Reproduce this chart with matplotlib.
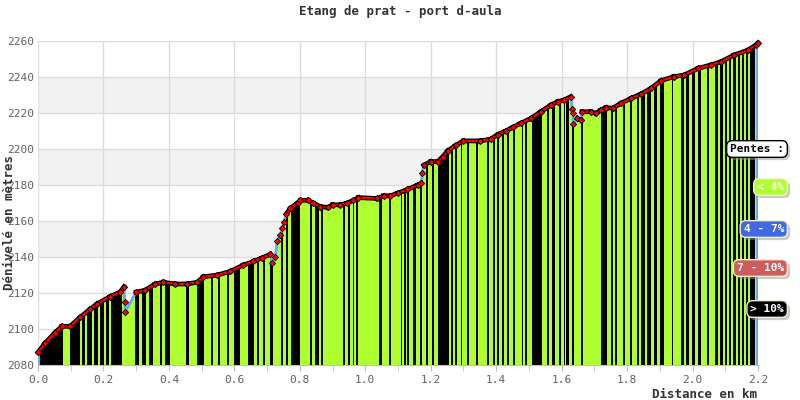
import numpy as np
import matplotlib.pyplot as plt
from matplotlib.patches import Polygon
import matplotlib.patheffects as pe

# elevation profile (km, m)
dist = [0.0, 0.021, 0.052, 0.073, 0.098, 0.129, 0.159, 0.181, 0.22, 0.251,
        0.263, 0.265, 0.266, 0.30, 0.327, 0.358, 0.383, 0.419, 0.456, 0.487,
        0.505, 0.548, 0.588, 0.627, 0.658, 0.685, 0.71, 0.715, 0.725, 0.731,
        0.74, 0.747, 0.751, 0.759, 0.771, 0.793, 0.802, 0.826, 0.841, 0.863,
        0.887, 0.90, 0.924, 0.945, 0.964, 0.979, 1.037, 1.056, 1.077, 1.099,
        1.129, 1.16, 1.171, 1.174, 1.179, 1.20, 1.221, 1.236, 1.252, 1.276,
        1.30, 1.352, 1.383, 1.405, 1.429, 1.45, 1.475, 1.506, 1.536, 1.567,
        1.588, 1.607, 1.628, 1.633, 1.635, 1.636, 1.648, 1.659, 1.662, 1.689,
        1.704, 1.72, 1.735, 1.756, 1.781, 1.812, 1.842, 1.873, 1.904, 1.943,
        1.974, 2.017, 2.056, 2.087, 2.127, 2.17, 2.195, 2.2]
elev = [2087, 2092, 2098, 2101.5, 2101.5, 2106.5, 2111, 2114, 2118, 2120.5,
        2123.5, 2115, 2109.5, 2120.5, 2121.5, 2125, 2126, 2125, 2125, 2126,
        2129, 2130, 2132, 2135.5, 2137.5, 2139.5, 2141.5, 2136.5, 2140, 2149,
        2152, 2156, 2159.5, 2164, 2167, 2170, 2171.5, 2171.5, 2170, 2168,
        2167.5, 2169, 2169, 2170, 2171.5, 2173, 2172.5, 2174, 2174, 2175.5,
        2177.5, 2180, 2181, 2186.5, 2191, 2193, 2193, 2195.5, 2199, 2202,
        2204.5, 2204.5, 2205.5, 2208, 2210, 2212, 2214.3, 2217, 2220.7, 2224.4,
        2226.3, 2227.2, 2229.1, 2222, 2219.8, 2213.7, 2217, 2216, 2220.7, 2220.7,
        2219.8, 2221.7, 2223, 2222.6, 2225.4, 2228.1, 2230.5, 2233.7, 2238, 2240.2,
        2241.1, 2244.8, 2246.7, 2248.5, 2252.2, 2255, 2258, 2259]

# slope stripes > 10% (start, end in km)
black_start = [0.006, 0.098, 0.135, 0.150, 0.171, 0.190, 0.208, 0.223, 0.297, 0.318, 0.340,
               0.373, 0.389, 0.453, 0.487, 0.529, 0.551, 0.578, 0.600, 0.643, 0.670, 0.689, 0.710,
               0.744, 0.759, 0.774, 0.832, 0.845, 0.866, 0.933, 0.946, 0.961, 0.973, 1.043, 1.074,
               1.108, 1.117, 1.129, 1.147, 1.166, 1.187, 1.203, 1.221, 1.261, 1.273, 1.291, 1.310,
               1.337, 1.371, 1.389, 1.401, 1.417, 1.432, 1.450,
               1.478, 1.487, 1.509, 1.554, 1.570, 1.591, 1.607, 1.613, 1.631, 1.659, 1.720, 1.750,
               1.763, 1.787, 1.809, 1.830,
               1.842, 1.860, 1.882, 1.900, 1.937, 1.964, 1.980, 1.998, 2.017, 2.044, 2.069, 2.084,
               2.099, 2.111, 2.124, 2.139, 2.151, 2.163, 2.176]
black_end = [0.0765, 0.1285, 0.144, 0.165, 0.184, 0.202, 0.217, 0.257, 0.309, 0.330, 0.352,
             0.379, 0.404, 0.462, 0.508, 0.535, 0.557, 0.584, 0.618, 0.661, 0.676, 0.695, 0.719,
             0.750, 0.765, 0.802, 0.838, 0.860, 0.872, 0.939, 0.952, 0.967, 0.979, 1.050, 1.080,
             1.111, 1.123, 1.135, 1.154, 1.172, 1.193, 1.209, 1.255, 1.267, 1.279, 1.297, 1.316,
             1.343, 1.377, 1.395, 1.408, 1.423, 1.438, 1.457,
             1.481, 1.493, 1.539, 1.561, 1.579, 1.597, 1.610, 1.622, 1.637, 1.665, 1.738, 1.756,
             1.769, 1.793, 1.815, 1.836,
             1.854, 1.873, 1.891, 1.912, 1.940, 1.974, 1.989, 2.007, 2.026, 2.050, 2.078, 2.093,
             2.105, 2.118, 2.133, 2.145, 2.157, 2.170, 2.191]
# 4-7% stripes
blue_start = [0.0, 2.194]
blue_end = [0.006, 2.2]

title = "Etang de prat - port d-aula"
legend_labels = ["< 4%", "4 - 7%", "7 - 10%", "> 10%"]
legend_colors = ["#adff2f", "#4169e1", "#cd5c5c", "#000000"]

GREEN = "#adff2f"
LINE_BLUE = "#66aaee"
YMIN, YMAX = 2080, 2260

plt.rcParams['font.family'] = ['DejaVu Sans Mono', 'DejaVu Sans']

fig = plt.figure(figsize=(8, 4), dpi=100)
ax = fig.add_axes([38 / 800, 1 - 365 / 400, 720 / 800, 324 / 400])

# background bands + grid
for lo in (2140, 2180, 2220):
    ax.axhspan(lo, lo + 20, color="#f2f2f2", zorder=0, lw=0)
ax.set_yticks(np.arange(2080, 2261, 20))
ax.set_xticks(np.round(np.arange(0, 2.21, 0.2), 1))
ax.set_xticks(np.round(np.arange(0, 2.21, 0.1), 1), minor=True)
ax.grid(True, color="#dcdcdc", lw=1, zorder=0.5)
ax.set_axisbelow(True)

x = np.array(dist)
y = np.array(elev)

# area under profile
verts = np.column_stack([np.r_[x, x[-1], x[0]], np.r_[y, YMIN, YMIN]])
area = Polygon(verts, closed=True, facecolor=GREEN, edgecolor="none", zorder=1)
ax.add_patch(area)

bs = np.array(black_start)
be = np.array(black_end)
bars = ax.bar(bs, YMAX - YMIN, width=be - bs, bottom=YMIN, align="edge",
              color="black", lw=0, zorder=1.1)
for b in bars:
    b.set_clip_path(area)
cs = np.array(blue_start)
ce = np.array(blue_end)
bars = ax.bar(cs, YMAX - YMIN, width=ce - cs, bottom=YMIN, align="edge",
              color=LINE_BLUE, lw=0, zorder=1.1)
for b in bars:
    b.set_clip_path(area)

# profile line: blue, with red chain on gentle parts
ax.plot(x, y, color=LINE_BLUE, lw=2, zorder=3, clip_on=False)
cx, cy = [], []
for i in range(len(x) - 1):
    slope = abs(y[i + 1] - y[i]) / ((x[i + 1] - x[i]) * 1000)
    if slope < 0.25:
        cx += [x[i], x[i + 1], np.nan]
        cy += [y[i], y[i + 1], np.nan]
ax.plot(cx, cy, color="red", lw=1.6, zorder=4, clip_on=False,
        path_effects=[pe.Stroke(linewidth=3.4, foreground="black"), pe.Normal()])
ax.plot(x, y, ls="none", marker="D", ms=3.2, mfc="red", mec="black", mew=0.6,
        zorder=5, clip_on=False)

ax.set_xlim(0, 2.2)
ax.set_ylim(YMIN, YMAX)
for s in ("top", "right", "left"):
    ax.spines[s].set_visible(False)
ax.spines["bottom"].set_color("#c0c0c0")
ax.tick_params(axis="y", length=0, labelsize=8, labelcolor="#606060", pad=3)
ax.tick_params(axis="x", which="both", length=4, color="#c0c0c0", labelsize=8,
               labelcolor="#606060", pad=3)
ax.set_xticklabels([f"{v:.1f}" for v in np.arange(0, 2.21, 0.2)])

fig.text(0.5, 1 - 12 / 400, title, ha="center", va="center", fontsize=9,
         fontweight="bold", color="#333333")
fig.text(10 / 800, 1 - 222 / 400, "Dénivelé en mètres", rotation=90, ha="center",
         va="center", fontsize=9, fontweight="bold", color="#333333")
fig.text(757 / 800, 1 - 395 / 400, "Distance en km", ha="right", va="center",
         fontsize=9, fontweight="bold", color="#333333")


# legend boxes
def label_box(ypix, text, face, tcolor, edge):
    t = fig.text(784 / 800, 1 - ypix / 400, text, ha="right", va="center",
                 fontsize=8, fontweight="bold", color=tcolor, zorder=9,
                 bbox=dict(boxstyle="round,pad=0.3,rounding_size=0.5", fc=face, ec=edge, lw=1))
    t.get_bbox_patch().set_path_effects(
        [pe.withSimplePatchShadow(offset=(2, -2), shadow_rgbFace="#999999", alpha=0.5)])


label_box(149, "Pentes :", "white", "black", "black")
for ypix, lab, col in zip((187, 229, 268, 309), legend_labels, legend_colors):
    label_box(ypix, lab, col, "white", "#f5f0d0")

fig.savefig("out.png", dpi=100)
